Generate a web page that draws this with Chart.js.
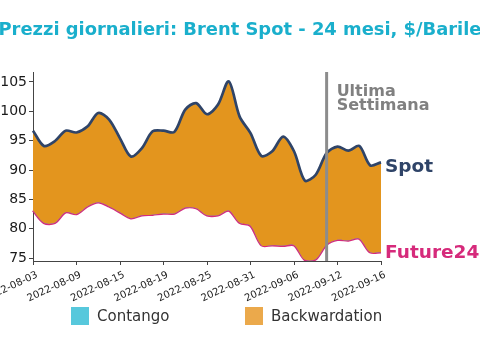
<!DOCTYPE html>
<html lang="it">
<head>
    <meta charset="UTF-8">
    <title>Brent Spot vs Future 24 mesi</title>
    <script src="https://cdn.jsdelivr.net/npm/chart.js"></script>
    <style>
        body { margin: 0; background: #fff; }
        #wrap { width: 480px; height: 360px; }
    </style>
</head>
<body>
    <div id="wrap"><canvas id="brentChart" width="480" height="360"></canvas></div>

    <script>
        // giorni lavorativi
        const dates = [
            '2022-08-03', '2022-08-04', '2022-08-05', '2022-08-08', '2022-08-09', '2022-08-10',
            '2022-08-11', '2022-08-12', '2022-08-15', '2022-08-16', '2022-08-17', '2022-08-18',
            '2022-08-19', '2022-08-22', '2022-08-23', '2022-08-24', '2022-08-25', '2022-08-26',
            '2022-08-29', '2022-08-30', '2022-08-31', '2022-09-01', '2022-09-02', '2022-09-05',
            '2022-09-06', '2022-09-07', '2022-09-08', '2022-09-09', '2022-09-12', '2022-09-13',
            '2022-09-14', '2022-09-15', '2022-09-16'
        ];
        const spot = [
            96.7, 94.1, 94.9, 96.7, 96.4, 97.4, 99.7, 98.6, 95.4, 92.3, 93.7,
            96.6, 96.7, 96.5, 100.3, 101.4, 99.5, 101.1, 105.1, 99.1, 96.3, 92.4,
            93.2, 95.7, 93.2, 88.2, 89.2, 92.9, 94.0, 93.3, 94.1, 90.8, 91.3
        ];
        const future24 = [
            83.1, 81.0, 81.0, 82.8, 82.5, 83.8, 84.5, 83.8, 82.8, 81.8, 82.3,
            82.4, 82.6, 82.6, 83.6, 83.5, 82.3, 82.3, 83.1, 81.0, 80.5, 77.2,
            77.2, 77.1, 77.2, 74.7, 74.8, 77.3, 78.1, 78.0, 78.3, 76.0, 76.0
        ];
        const xTickDates = ['2022-08-03', '2022-08-09', '2022-08-15', '2022-08-19', '2022-08-25',
                            '2022-08-31', '2022-09-06', '2022-09-12', '2022-09-16'];
        const yTicks = [75, 80, 85, 90, 95, 100, 105];
        const markerDate = '2022-09-09';
        const markerLabel = ['Ultima', 'Settimana'];
        const legendLabels = ['Contango', 'Backwardation'];
        const chartTitle = 'Prezzi giornalieri: Brent Spot - 24 mesi, $/Barile';

        const COL_SPOT = '#2f4468';
        const COL_FUT = '#d62a7b';
        const COL_BACK = '#e3951e';
        const COL_CONT = '#57c8dc';
        const FONT = "'DejaVu Sans', sans-serif";

        Chart.defaults.font.family = FONT;

        // titolo, etichette, linea verticale e legenda
        const extras = {
            id: 'extras',
            afterDatasetsDraw(chart) {
                const ctx = chart.ctx;
                const area = chart.chartArea;
                const xs = chart.scales.x;
                const ys = chart.scales.y;

                ctx.save();
                // titolo centrato su tutta la larghezza
                ctx.fillStyle = '#1aafcc';
                ctx.font = 'bold 17.9px ' + FONT;
                ctx.textAlign = 'center';
                ctx.textBaseline = 'alphabetic';
                ctx.fillText(chartTitle, chart.width / 2, 34.5);

                // linea "ultima settimana"
                const mx = xs.getPixelForValue(dates.indexOf(markerDate));
                ctx.strokeStyle = '#8c8c8c';
                ctx.lineWidth = 3;
                ctx.beginPath();
                ctx.moveTo(mx, area.top);
                ctx.lineTo(mx, area.bottom);
                ctx.stroke();

                ctx.fillStyle = '#808080';
                ctx.font = 'bold 16px ' + FONT;
                ctx.textAlign = 'left';
                ctx.fillText(markerLabel[0], mx + 10, 96);
                ctx.fillText(markerLabel[1], mx + 10, 110);

                // nomi serie a destra
                const last = dates.length - 1;
                ctx.font = 'bold 18.5px ' + FONT;
                ctx.textBaseline = 'middle';
                ctx.fillStyle = COL_SPOT;
                ctx.fillText('Spot', area.right + 4, ys.getPixelForValue(spot[last]) + 5);
                ctx.fillStyle = COL_FUT;
                ctx.fillText('Future24', area.right + 4, ys.getPixelForValue(future24[last]) + 1);

                // etichette asse x ruotate
                ctx.fillStyle = '#222';
                ctx.font = '10px ' + FONT;
                ctx.textAlign = 'right';
                ctx.textBaseline = 'top';
                xTickDates.forEach(d => {
                    const x = xs.getPixelForValue(dates.indexOf(d));
                    ctx.save();
                    ctx.translate(x + 2, area.bottom + 9);
                    ctx.rotate(-25 * Math.PI / 180);
                    ctx.fillText(d, 0, 0);
                    ctx.restore();
                });

                // legenda
                const items = [
                    { text: legendLabels[0], color: COL_CONT, x: 71 },
                    { text: legendLabels[1], color: '#eba94b', x: 245 }
                ];
                ctx.font = '15px ' + FONT;
                ctx.textBaseline = 'middle';
                ctx.textAlign = 'left';
                items.forEach(it => {
                    ctx.fillStyle = it.color;
                    ctx.fillRect(it.x, 307, 18, 18);
                    ctx.fillStyle = '#333';
                    ctx.fillText(it.text, it.x + 26, 317);
                });
                ctx.restore();
            }
        };

        const ctxBrent = document.getElementById('brentChart').getContext('2d');
        new Chart(ctxBrent, {
            type: 'line',
            data: {
                labels: dates,
                datasets: [{
                    label: 'Spot',
                    data: spot,
                    borderColor: COL_SPOT,
                    borderWidth: 2.7,
                    pointRadius: 0,
                    tension: 0.3,
                    fill: { target: '+1', above: COL_BACK, below: COL_CONT }
                }, {
                    label: 'Future24',
                    data: future24,
                    borderColor: COL_FUT,
                    borderWidth: 2.5,
                    pointRadius: 0,
                    tension: 0.3,
                    fill: false
                }]
            },
            options: {
                responsive: false,
                animation: false,
                layout: { padding: { top: 72, right: 99 } },
                plugins: {
                    legend: { display: false },
                    tooltip: { enabled: false },
                    title: { display: false }
                },
                scales: {
                    x: {
                        type: 'category',
                        offset: false,
                        grid: { drawOnChartArea: false, tickLength: 4, color: '#444' },
                        border: { color: '#444' },
                        ticks: { display: false, autoSkip: false },
                        afterBuildTicks: scale => {
                            scale.ticks = xTickDates.map(d => ({ value: dates.indexOf(d) }));
                        },
                        afterFit: scale => { scale.height = 99; }
                    },
                    y: {
                        min: 74.5,
                        max: 106.7,
                        grid: { drawOnChartArea: false, tickLength: 4, color: '#444' },
                        border: { color: '#444' },
                        ticks: { color: '#1a1a1a', font: { size: 14 }, padding: 2 },
                        afterBuildTicks: scale => {
                            scale.ticks = yTicks.map(v => ({ value: v }));
                        },
                        afterFit: scale => { scale.width = 33; }
                    }
                }
            },
            plugins: [extras]
        });
    </script>
</body>
</html>
